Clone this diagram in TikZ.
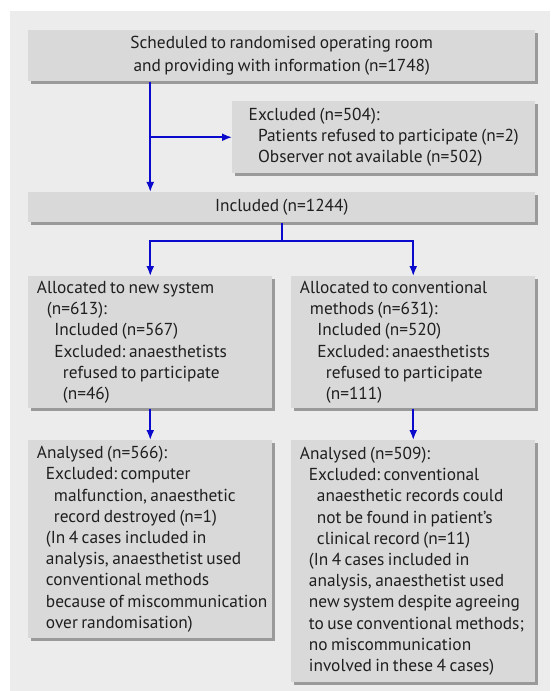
\documentclass[tikz,border=0pt]{standalone}
\usepackage{fontspec}
\setmainfont[WordSpace=0.75]{PT Sans}
\usetikzlibrary{arrows.meta,shadows,calc}

\definecolor{panelgray}{HTML}{ECECEC}
\definecolor{boxgray}{HTML}{D9D9D9}
\definecolor{shadegray}{HTML}{9A9A9A}
\definecolor{flowblue}{HTML}{0A0ACC}

\tikzset{
  stage/.style={fill=boxgray, anchor=north west, inner xsep=6pt, inner ysep=0pt,
    general shadow={fill=shadegray, shadow xshift=2.25pt, shadow yshift=-2.25pt},
    font=\fontsize{13}{15.9}\selectfont\frenchspacing, text=black!88},
  widestage/.style={stage, minimum width=380.25pt, align=center},
  colstage/.style={stage, inner xsep=1.5pt, minimum width=183pt, text width=180pt,
    align=flush left, execute at begin node={\leftskip=5pt}},
  flow/.style={draw=flowblue, line width=1.3pt, -{Latex[length=7.5pt,width=6pt]}}
}

\begin{document}
\begin{tikzpicture}[x=0.75pt,y=-0.75pt]
      \useasboundingbox (0,0) rectangle (550,691);
      \fill[panelgray] (9.5,11) rectangle (550,691);

      \node[widestage, minimum height=38.25pt] (top) at (28,30)
        {Scheduled to randomised operating room\\[1.5pt]
         and providing with information (n=1748)};
      \node[stage, minimum width=227.25pt, minimum height=54pt, inner xsep=3.5pt, align=left] (excl) at (232,101)
        {Excluded (n=504):\\
         \hspace*{7pt}Patients refused to participate (n=2)\\
         \hspace*{7pt}Observer not available (n=502)};
      \node[widestage, minimum height=22.5pt] (incl) at (28,192) {Included (n=1244)};

      \node[colstage, minimum height=99pt] (newalloc) at (28,276)
        {Allocated to new system\\
         \hspace*{7.5pt}(n=613):\\
         \hspace*{13pt}Included (n=567)\\
         \hspace*{13pt}Excluded: anaesthetists\\
         \hspace*{19.5pt}refused to participate\\
         \hspace*{19.5pt}(n=46)};
      \node[colstage, minimum height=99pt] (convalloc) at (291,276)
        {Allocated to conventional\\
         \hspace*{7.5pt}methods (n=631):\\
         \hspace*{13pt}Included (n=520)\\
         \hspace*{13pt}Excluded: anaesthetists\\
         \hspace*{19.5pt}refused to participate\\
         \hspace*{19.5pt}(n=111)};

      \node[colstage, minimum height=148.5pt] (newanal) at (28,440)
        {Analysed (n=566):\\
         \hspace*{6.75pt}Excluded: computer\\
         \hspace*{12.75pt}malfunction, anaesthetic\\
         \hspace*{12.75pt}record destroyed (n=1)\\
         \hspace*{6.75pt}(In 4 cases included in\\
         \hspace*{6.75pt}analysis, anaesthetist used\\
         \hspace*{6.75pt}conventional methods\\
         \hspace*{6.75pt}because of miscommunication\\
         \hspace*{6.75pt}over randomisation)};
      \node[colstage, minimum height=181.5pt] (convanal) at (291,440)
        {Analysed (n=509):\\
         \hspace*{6.75pt}Excluded: conventional\\
         \hspace*{12.75pt}anaesthetic records could\\
         \hspace*{12.75pt}not be found in patient’s\\
         \hspace*{12.75pt}clinical record (n=11)\\
         \hspace*{6.75pt}(In 4 cases included in\\
         \hspace*{6.75pt}analysis, anaesthetist used\\
         \hspace*{6.75pt}new system despite agreeing\\
         \hspace*{6.75pt}to use conventional methods;\\
         \hspace*{6.75pt}no miscommunication\\
         \hspace*{6.75pt}involved in these 4 cases)};

      % connectors
      \coordinate (split) at ($(incl.south)+(0,18.5)$);
      \draw[flow] (top.south -| newalloc.north) -- (incl.north -| newalloc.north);
      \draw[flow] (excl.west -| newalloc.north) -- (excl.west);
      \draw[flowblue, line width=1.3pt] (incl.south) -- (split);
      \draw[flow] (split) -| (newalloc.north);
      \draw[flow] (split) -| (convalloc.north);
      \draw[flow] (newalloc.south) -- (newanal.north);
      \draw[flow] (convalloc.south) -- (convanal.north);
    \end{tikzpicture}
\end{document}
